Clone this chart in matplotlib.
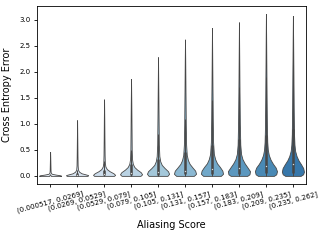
import matplotlib
matplotlib.use("Agg")
import numpy as np
import matplotlib.pyplot as plt
import seaborn as sns

# aliasing score bins (x categories)
bins = [
    "(0.000517, 0.0269]", "(0.0269, 0.0529]", "(0.0529, 0.079]",
    "(0.079, 0.105]", "(0.105, 0.131]", "(0.131, 0.157]",
    "(0.157, 0.183]", "(0.183, 0.209]", "(0.209, 0.235]",
    "(0.235, 0.262]",
]

# violin outlines: y levels and relative half-widths
profile_y = [
    [0, 0.01, 0.025, 0.04, 0.06, 0.1, 0.2, 0.3, 0.46],
    [0, 0.015, 0.03, 0.05, 0.08, 0.12, 0.2, 0.4, 0.7, 1.07],
    [0, 0.02, 0.05, 0.09, 0.13, 0.18, 0.25, 0.4, 0.7, 1.1, 1.47],
    [0, 0.03, 0.07, 0.12, 0.17, 0.23, 0.32, 0.5, 0.9, 1.4, 1.86],
    [0, 0.04, 0.09, 0.15, 0.21, 0.28, 0.38, 0.6, 1.0, 1.6, 2.28],
    [0, 0.04, 0.1, 0.16, 0.23, 0.3, 0.4, 0.6, 1.0, 1.6, 2.2, 2.62],
    [0, 0.04, 0.1, 0.17, 0.24, 0.32, 0.42, 0.65, 1.1, 1.7, 2.3, 2.84],
    [0, 0.03, 0.09, 0.16, 0.24, 0.32, 0.42, 0.6, 1.0, 1.6, 2.3, 2.95],
    [0, 0.03, 0.09, 0.16, 0.23, 0.31, 0.4, 0.5, 0.65, 0.9, 1.5, 2.2, 2.7, 3.11],
    [0, 0.03, 0.08, 0.15, 0.22, 0.3, 0.38, 0.48, 0.6, 0.8, 1.3, 2.0, 2.6, 3.07],
]
profile_w = [
    [1.0, 0.95, 0.5, 0.15, 0.06, 0.04, 0.03, 0.02, 0.0],
    [0.95, 1.0, 0.75, 0.4, 0.18, 0.08, 0.05, 0.035, 0.02, 0.0],
    [0.9, 1.0, 0.85, 0.5, 0.25, 0.12, 0.07, 0.05, 0.035, 0.02, 0.0],
    [0.85, 1.0, 0.88, 0.55, 0.3, 0.16, 0.09, 0.06, 0.045, 0.025, 0.0],
    [0.85, 1.0, 0.9, 0.6, 0.34, 0.2, 0.12, 0.075, 0.055, 0.03, 0.0],
    [0.8, 1.0, 0.92, 0.68, 0.42, 0.27, 0.16, 0.1, 0.07, 0.045, 0.022, 0.0],
    [0.8, 1.0, 0.94, 0.72, 0.46, 0.29, 0.17, 0.1, 0.07, 0.045, 0.022, 0.0],
    [0.75, 0.95, 1.0, 0.78, 0.52, 0.32, 0.19, 0.12, 0.08, 0.05, 0.025, 0.0],
    [0.72, 0.93, 1.0, 0.88, 0.64, 0.42, 0.26, 0.17, 0.12, 0.09, 0.06, 0.035, 0.018, 0.0],
    [0.7, 0.92, 1.0, 0.93, 0.74, 0.5, 0.33, 0.2, 0.14, 0.1, 0.07, 0.045, 0.022, 0.0],
]

# inner box statistics
q25 = [0.002, 0.005, 0.01, 0.015, 0.02, 0.03, 0.035, 0.04, 0.05, 0.06]
median = [0.006, 0.02, 0.04, 0.06, 0.08, 0.1, 0.13, 0.16, 0.19, 0.23]
q75 = [0.015, 0.05, 0.12, 0.22, 0.33, 0.46, 0.6, 0.71, 0.79, 0.9]
whisker_hi = [0.035, 0.12, 0.28, 0.5, 0.8, 1.1, 1.45, 1.7, 1.9, 2.15]

colors = [sns.desaturate(c, 0.8) for c in plt.cm.Blues(np.linspace(0.1, 0.72, len(bins)))]
edge = "0.28"

fig, ax = plt.subplots(figsize=(3.27, 2.43), dpi=100)
fig.subplots_adjust(left=0.112, right=0.937, top=0.977, bottom=0.243)

half = 0.41
for i, (ys, ws) in enumerate(zip(profile_y, profile_w)):
    ys = np.asarray(ys)
    ws = np.asarray(ws) * half
    ax.fill_betweenx(ys, i - ws, i + ws, facecolor=colors[i],
                     edgecolor=edge, linewidth=0.6, zorder=2)
    ax.plot([i, i], [0, whisker_hi[i]], color=edge, lw=0.7, zorder=3,
            solid_capstyle="butt")
    ax.plot([i, i], [q25[i], q75[i]], color=edge, lw=2.0, zorder=3,
            solid_capstyle="butt", alpha=0.85)
    ax.scatter([i], [median[i]], s=1.0, color="0.85", zorder=4,
               linewidths=0)

ax.set_xlim(-0.5, len(bins) - 0.5)
ax.set_ylim(-0.155, 3.27)
ax.set_xticks(range(len(bins)))
ax.set_xticklabels(bins, rotation=15, fontsize=5)
ax.set_yticks([0, 0.5, 1.0, 1.5, 2.0, 2.5, 3.0])
ax.tick_params(axis="y", labelsize=5)
ax.tick_params(length=2.5, width=0.6, pad=2)
for s in ax.spines.values():
    s.set_linewidth(0.6)
ax.set_xlabel("Aliasing Score", fontsize=7, labelpad=4)
ax.set_ylabel("Cross Entropy Error", fontsize=7, labelpad=5)

fig.savefig("out.png", dpi=100)
